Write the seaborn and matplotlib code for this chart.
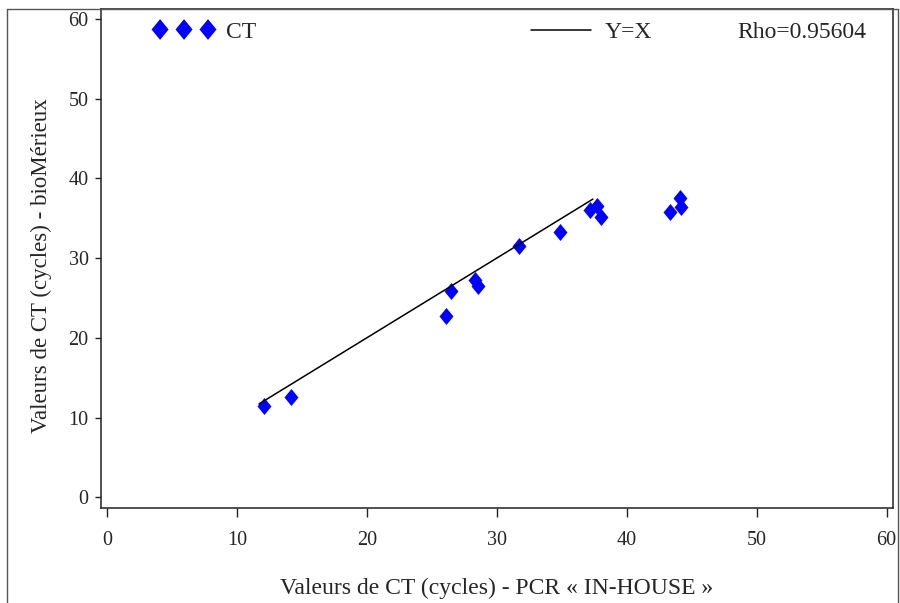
import numpy as np
import pandas as pd
import matplotlib
matplotlib.use("Agg")
import matplotlib.pyplot as plt
from matplotlib.lines import Line2D
from matplotlib.path import Path
import seaborn as sns

# ---- data ----
pcr_inhouse = [12.1, 14.2, 26.1, 26.5, 28.3, 28.55, 31.7, 34.9, 37.2, 37.7, 38.0, 43.3, 44.1, 44.2]
biomerieux = [11.5, 12.6, 22.7, 25.9, 27.2, 26.5, 31.5, 33.3, 36.0, 36.5, 35.1, 35.8, 37.6, 36.4]
identity_x = [11.7, 37.4]
rho_text = "Rho=0.95604"
x_ticks = [0, 10, 20, 30, 40, 50, 60]
y_ticks = [0, 10, 20, 30, 40, 50, 60]
x_label = "Valeurs de CT (cycles) - PCR « IN-HOUSE »"
y_label = "Valeurs de CT (cycles) - bioMérieux"

sns.set_style("ticks")
plt.rcParams["font.family"] = ["Liberation Serif", "DejaVu Serif"]
plt.rcParams["axes.linewidth"] = 1.1
plt.rcParams["axes.edgecolor"] = "#222222"

W, H = 900, 603
fig = plt.figure(figsize=(9, 6.03), dpi=100)
ax = fig.add_axes([101 / W, 1 - 508 / H, (893 - 101) / W, (508 - 9) / H])

diamond = Path([(0, 1), (0.82, 0), (0, -1), (-0.82, 0), (0, 1)],
               [Path.MOVETO, Path.LINETO, Path.LINETO, Path.LINETO, Path.CLOSEPOLY])

df = pd.DataFrame({"x": pcr_inhouse, "y": biomerieux})
sns.scatterplot(data=df, x="x", y="y", ax=ax, marker=diamond, s=150,
                color="#0000ff", edgecolor="#0000ff", linewidth=0, label="CT", legend=False)
dline = pd.DataFrame({"x": identity_x, "y": identity_x})
sns.lineplot(data=dline, x="x", y="y", ax=ax, color="black", linewidth=1.1, label="Y=X", legend=False)

ax.set_xlim(-0.46, 60.5)
ax.set_ylim(-1.35, 61.25)
ax.set_xticks(x_ticks)
ax.set_yticks(y_ticks)
ax.tick_params(axis="x", direction="out", length=6.5, width=1, labelsize=14.5, pad=10, color="#222222")
ax.tick_params(axis="y", direction="out", length=4, width=1, labelsize=14.5, pad=5, color="#222222")
ax.set_xlabel(x_label, fontsize=17, labelpad=20)
ax.set_ylabel(y_label, fontsize=16.5, labelpad=12)
ax.yaxis.label.set_y(0.485)
for s in ax.spines.values():
    s.set_visible(True)

# legends
fs = 17
sc = ax.collections[0]
ln = ax.get_lines()[0]
yc = (508 - 32) / 499
leg1 = ax.legend([sc], ["CT"], loc="center left", bbox_to_anchor=((153 - 101) / 792, yc),
                 frameon=False, scatterpoints=3, scatteryoffsets=[0.5], markerscale=1.22,
                 handlelength=2.63, handletextpad=0.47, borderpad=0, borderaxespad=0, fontsize=fs)
ax.add_artist(leg1)
ax.legend([ln], ["Y=X"], loc="center left", bbox_to_anchor=((531 - 101) / 792, yc),
          frameon=False, handlelength=2.54, handletextpad=0.59,
          borderpad=0, borderaxespad=0, fontsize=fs)
ax.text((737 - 101) / 792, yc, rho_text, transform=ax.transAxes,
        ha="left", va="center", fontsize=fs)

# outer frame
fig.add_artist(Line2D([7 / W, 7 / W], [0, 1 - 9 / H], transform=fig.transFigure, color="#555555", lw=1))
fig.add_artist(Line2D([7 / W, 898 / W], [1 - 9 / H, 1 - 9 / H], transform=fig.transFigure, color="#555555", lw=1))
fig.add_artist(Line2D([898 / W, 898 / W], [0, 1 - 9 / H], transform=fig.transFigure, color="#555555", lw=1))

fig.savefig("out.png", dpi=100)
